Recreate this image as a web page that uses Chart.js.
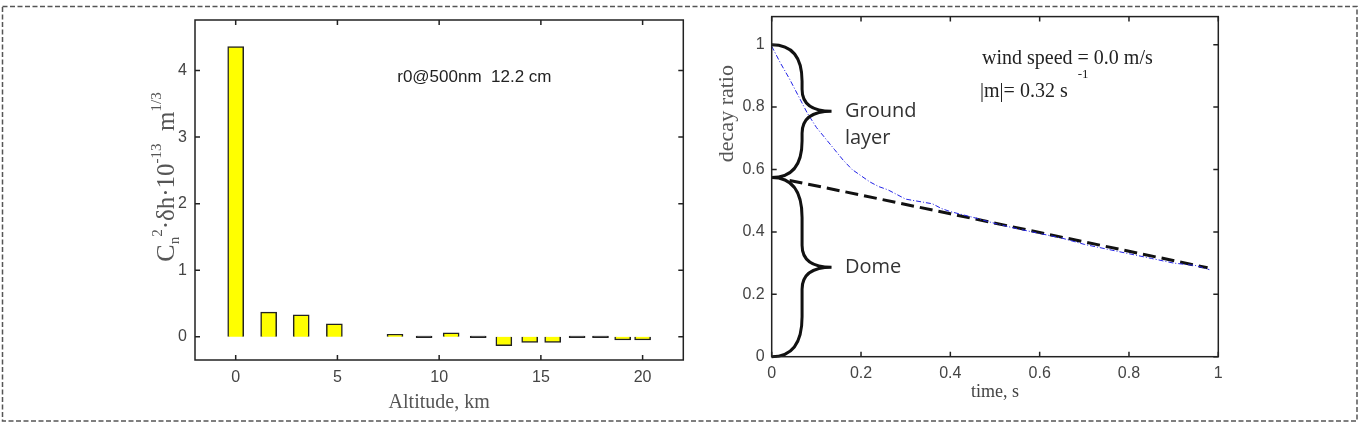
<!DOCTYPE html>
<html>
<head>
<meta charset="utf-8">
<script src="https://cdn.jsdelivr.net/npm/chart.js@4.4.0/dist/chart.umd.min.js"></script>
<style>
  body { margin: 0; background: #fff; width: 1360px; height: 424px; position: relative; overflow: hidden; }
  #frame { position: absolute; left: 0; top: 0; }
  #leftBox { position: absolute; left: 100px; top: 0; width: 600px; height: 424px; }
  #rightBox { position: absolute; left: 700px; top: 0; width: 560px; height: 424px; }
</style>
</head>
<body>
<svg id="frame" width="1360" height="424"><rect x="2.5" y="6.5" width="1354.5" height="414.5" fill="none" stroke="#555" stroke-width="1.5" stroke-dasharray="5 2.5"/></svg>
<div id="leftBox"><canvas id="cnChart" width="600" height="424"></canvas></div>
<div id="rightBox"><canvas id="decayChart" width="560" height="424"></canvas></div>
<script>
// left panel: turbulence profile
const altitudeKm = [0, 1.62, 3.22, 4.85, 7.83, 9.26, 10.59, 11.92, 13.18, 14.45, 15.58, 16.78, 17.93, 19.02, 20.0];
const cn2dh = [4.36, 0.37, 0.33, 0.195, 0.036, 0, 0.06, 0, -0.135, -0.085, -0.085, 0, 0, -0.05, -0.05];
const altTicks = [0, 5, 10, 15, 20];
const cn2Ticks = [0, 1, 2, 3, 4];

// right panel: decay ratio vs time
const timeS = [0, 0.02, 0.04, 0.06, 0.08, 0.10, 0.12, 0.14, 0.16, 0.18, 0.20, 0.22, 0.24, 0.26, 0.28, 0.30, 0.32, 0.34, 0.36, 0.38, 0.40, 0.45, 0.50, 0.55, 0.60, 0.65, 0.70, 0.75, 0.80, 0.85, 0.90, 0.95, 0.98];
const decayRatio = [0.995, 0.94, 0.89, 0.835, 0.78, 0.735, 0.70, 0.665, 0.63, 0.60, 0.58, 0.56, 0.545, 0.535, 0.52, 0.505, 0.50, 0.495, 0.49, 0.475, 0.465, 0.447, 0.427, 0.41, 0.395, 0.38, 0.36, 0.345, 0.33, 0.315, 0.30, 0.292, 0.279];
const fitTime = [0.04, 0.2, 0.4, 0.6, 0.8, 0.976];
const fitRatio = [0.565, 0.518, 0.458, 0.398, 0.338, 0.285];
const timeTicks = [0, 0.2, 0.4, 0.6, 0.8, 1];
const ratioTicks = [0, 0.2, 0.4, 0.6, 0.8, 1];
const braceSpans = [[1, 0.574], [0.574, 0]];
const braceLabels = [['Ground', 'layer'], ['Dome']];

const tickFont = { family: 'Liberation Sans', size: 16 };
const serif = 'Liberation Serif';

// matlab style box with inward ticks
const boxTicks = {
  id: 'boxTicks',
  afterDraw(chart) {
    const { ctx, chartArea: a, scales: { x, y } } = chart;
    ctx.save();
    ctx.strokeStyle = '#222';
    ctx.lineWidth = 1.5;
    ctx.strokeRect(a.left, a.top, a.right - a.left, a.bottom - a.top);
    ctx.beginPath();
    x.ticks.forEach(t => {
      const px = x.getPixelForValue(t.value);
      ctx.moveTo(px, a.bottom); ctx.lineTo(px, a.bottom - 5);
      ctx.moveTo(px, a.top); ctx.lineTo(px, a.top + 5);
    });
    y.ticks.forEach(t => {
      const py = y.getPixelForValue(t.value);
      ctx.moveTo(a.left, py); ctx.lineTo(a.left + 5, py);
      ctx.moveTo(a.right, py); ctx.lineTo(a.right - 5, py);
    });
    ctx.stroke();
    ctx.restore();
  }
};

function runsWidth(ctx, runs) {
  let w = 0;
  runs.forEach(r => { ctx.font = r.size + 'px ' + serif; w += ctx.measureText(r.text).width; });
  return w;
}
function drawRuns(ctx, runs, x0) {
  let x = x0;
  runs.forEach(r => {
    ctx.font = r.size + 'px ' + serif;
    ctx.fillText(r.text, x, r.dy || 0);
    x += ctx.measureText(r.text).width;
  });
}

const cnTitle = [
  { text: 'C', size: 26 },
  { text: 'n', size: 15, dy: 5 },
  { text: '2', size: 15, dy: -12 },
  { text: '·δh·10', size: 25 },
  { text: '-13', size: 15, dy: -13 },
  { text: '  m', size: 25 },
  { text: '1/3', size: 15, dy: -13 }
];

const cnNotes = {
  id: 'cnNotes',
  afterDraw(chart) {
    const { ctx, chartArea: a, scales: { x, y } } = chart;
    ctx.save();
    ctx.fillStyle = '#222';
    ctx.font = '17px Liberation Sans';
    ctx.textBaseline = 'middle';
    ctx.fillText('r0@500nm  12.2 cm', x.getPixelForValue(7.94), y.getPixelForValue(3.9));
    // rotated y title
    ctx.fillStyle = '#555';
    ctx.textBaseline = 'alphabetic';
    ctx.translate(a.left - 21, (a.top + a.bottom) / 2 - 13);
    ctx.rotate(-Math.PI / 2);
    drawRuns(ctx, cnTitle, -runsWidth(ctx, cnTitle) / 2);
    ctx.restore();
  }
};

new Chart(document.getElementById('cnChart'), {
  type: 'bar',
  data: {
    datasets: [{
      data: altitudeKm.map((a, i) => ({ x: a, y: cn2dh[i] })),
      backgroundColor: c => (c.raw && Math.abs(c.raw.y) < 0.01) ? '#555' : '#ffff00',
      borderColor: '#222',
      borderWidth: 1.5,
      barThickness: 16,
      minBarLength: 2
    }]
  },
  options: {
    responsive: false,
    animation: false,
    layout: { padding: { left: 0, right: 16.7, top: 20, bottom: 0 } },
    plugins: { legend: { display: false }, tooltip: { enabled: false } },
    scales: {
      x: {
        type: 'linear', min: -2, max: 22, offset: false,
        grid: { display: false, drawTicks: false },
        border: { display: false },
        afterBuildTicks: s => { s.ticks = altTicks.map(v => ({ value: v })); },
        afterFit: s => { s.height = 64; },
        ticks: { padding: 8, font: tickFont, color: '#444', callback: v => String(v) },
        title: { display: true, text: 'Altitude, km', font: { family: serif, size: 20 }, color: '#555', padding: { bottom: 9 } }
      },
      y: {
        min: -0.35, max: 4.76,
        grid: { display: false, drawTicks: false },
        border: { display: false },
        afterBuildTicks: s => { s.ticks = cn2Ticks.map(v => ({ value: v })); },
        afterFit: s => { s.width = 95; },
        ticks: { padding: 8, font: tickFont, color: '#444', callback: v => String(v) }
      }
    }
  },
  plugins: [boxTicks, cnNotes]
});

function drawBrace(ctx, x0, xs, xt, yTop, yBot) {
  const mid = (yTop + yBot) / 2;
  const arc = Math.min((mid - yTop) * 0.55, 40);
  const cusp = 22;
  ctx.moveTo(x0, yTop);
  ctx.quadraticCurveTo(xs, yTop, xs, yTop + arc);
  ctx.lineTo(xs, mid - cusp);
  ctx.quadraticCurveTo(xs, mid, xt, mid);
  ctx.quadraticCurveTo(xs, mid, xs, mid + cusp);
  ctx.lineTo(xs, yBot - arc);
  ctx.quadraticCurveTo(xs, yBot, x0, yBot);
}

const decayNotes = {
  id: 'decayNotes',
  afterDatasetsDraw(chart) {
    const { ctx, chartArea: a, scales: { x, y } } = chart;
    ctx.save();
    ctx.strokeStyle = '#111';
    ctx.lineWidth = 3;
    ctx.beginPath();
    braceSpans.forEach(s => drawBrace(ctx, x.getPixelForValue(0), x.getPixelForValue(0.068), x.getPixelForValue(0.134), y.getPixelForValue(s[0]), y.getPixelForValue(s[1])));
    ctx.stroke();

    ctx.fillStyle = '#333';
    ctx.font = '20px Open Sans';
    ctx.textBaseline = 'middle';
    braceSpans.forEach((s, i) => {
      const py = y.getPixelForValue((s[0] + s[1]) / 2);
      braceLabels[i].forEach((line, j) => ctx.fillText(line, x.getPixelForValue(0.164), py + j * 27));
    });

    ctx.fillStyle = '#222';
    ctx.font = '20px ' + serif;
    const tx = x.getPixelForValue(0.471);
    ctx.fillText('wind speed = 0.0 m/s', tx, y.getPixelForValue(0.956));
    const my = y.getPixelForValue(0.848);
    ctx.fillText('|m|= 0.32 s', tx - 2, my);
    const mw = ctx.measureText('|m|= 0.32 s').width;
    ctx.font = '13px ' + serif;
    ctx.fillText('-1', tx - 2 + mw + 10, my - 18);

    // rotated y title
    ctx.fillStyle = '#555';
    ctx.font = '22px ' + serif;
    ctx.textAlign = 'center';
    ctx.translate(a.left - 44, a.top + 97);
    ctx.rotate(-Math.PI / 2);
    ctx.fillText('decay ratio', 0, 0);
    ctx.restore();
  }
};

new Chart(document.getElementById('decayChart'), {
  type: 'line',
  data: {
    datasets: [{
      data: timeS.map((t, i) => ({ x: t, y: decayRatio[i] })),
      borderColor: '#2222e6',
      borderWidth: 1,
      borderDash: [5, 2, 1, 2],
      pointRadius: 0,
      tension: 0
    }, {
      data: fitTime.map((t, i) => ({ x: t, y: fitRatio[i] })),
      borderColor: '#111',
      borderWidth: 3,
      borderDash: [13, 6],
      pointRadius: 0,
      tension: 0
    }]
  },
  options: {
    responsive: false,
    animation: false,
    layout: { padding: { left: 0, right: 41.7, top: 15, bottom: 0 } },
    plugins: { legend: { display: false }, tooltip: { enabled: false } },
    scales: {
      x: {
        type: 'linear', min: 0, max: 1,
        grid: { display: false, drawTicks: false },
        border: { display: false },
        afterBuildTicks: s => { s.ticks = timeTicks.map(v => ({ value: v })); },
        afterFit: s => { s.height = 67.3; },
        ticks: { padding: 7, font: tickFont, color: '#444', callback: v => String(v) },
        title: { display: true, text: 'time, s', font: { family: serif, size: 18 }, color: '#444', padding: { bottom: 21 } }
      },
      y: {
        min: 0, max: 1.09,
        grid: { display: false, drawTicks: false },
        border: { display: false },
        afterBuildTicks: s => { s.ticks = ratioTicks.map(v => ({ value: v })); },
        afterFit: s => { s.width = 71.7; },
        ticks: { padding: 7, font: tickFont, color: '#444', callback: v => String(v) }
      }
    }
  },
  plugins: [boxTicks, decayNotes]
});
</script>
</body>
</html>
